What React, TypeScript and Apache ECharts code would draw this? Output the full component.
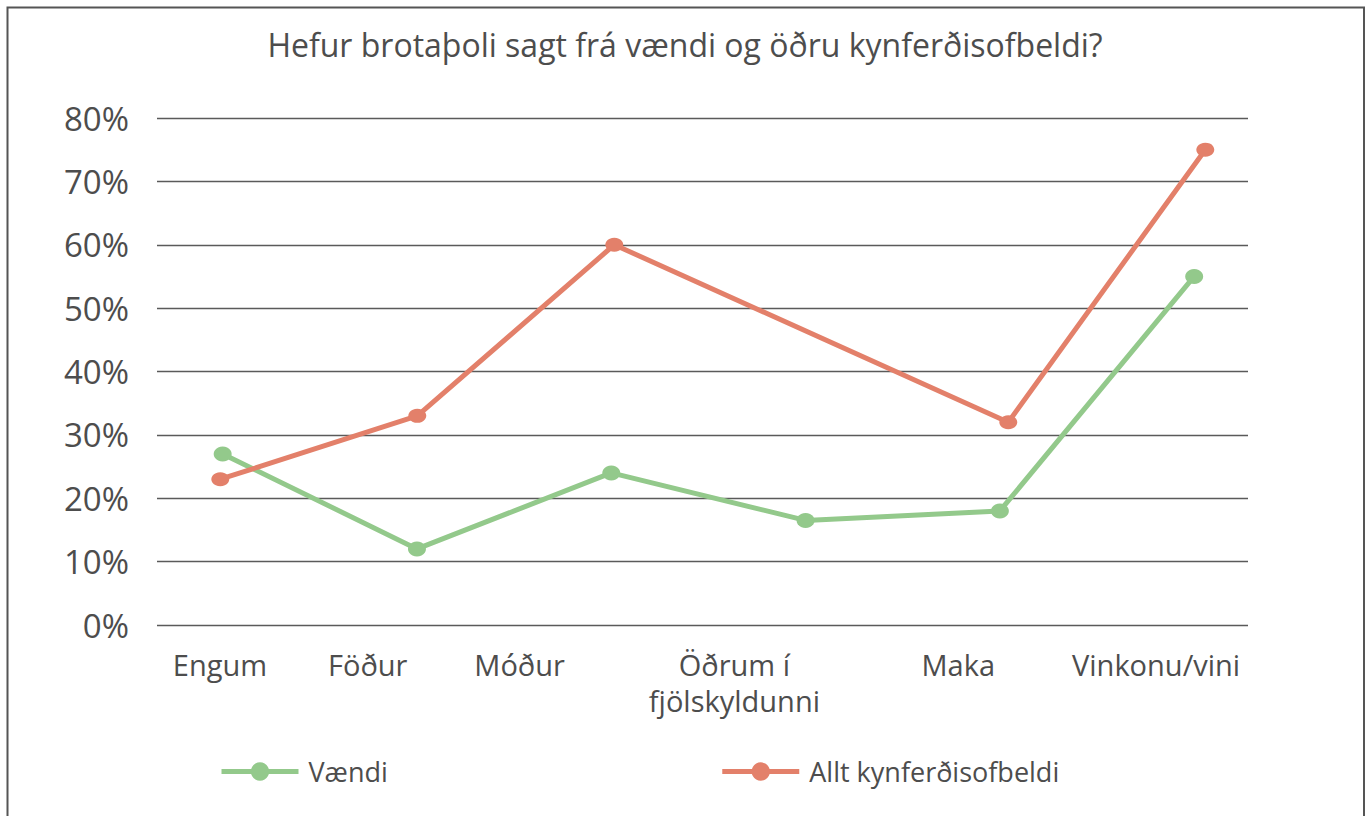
import React, { useEffect, useRef } from 'react';
import * as echarts from 'echarts';

// ---- data ----
const categories: string[] = ['Engum', 'Föður', 'Móður', 'Öðrum í\nfjölskyldunni', 'Maka', 'Vinkonu/vini'];
const seriesNames: string[] = ['Vændi', 'Allt kynferðisofbeldi'];
const vaendi: (number | null)[] = [27, 12, 24, 16.5, 18, 55];
const allt: (number | null)[] = [23, 33, 60, null, 32, 75];
const yMin = 0;
const yMax = 80;
const yStep = 10;
const titleText = 'Hefur brotaþoli sagt frá vændi og öðru kynferðisofbeldi?';

// ---- layout / style (not data) ----
const labelShift = [-28, -62, -92, -59, -17, -1];
const font = "'Open Sans', sans-serif";
const textColor = '#4d4d4d';
const gridColor = '#5a5a5a';
const green = '#93C98B';
const orange = '#E3806A';

export default function App() {
  const ref = useRef<HTMLDivElement>(null);
  useEffect(() => {
    const chart = echarts.init(ref.current as HTMLDivElement, null, { renderer: 'svg' });
    const rich: Record<string, any> = {};
    labelShift.forEach((s, i) => {
      rich['l' + i] = {
        fontFamily: font,
        fontSize: 29,
        color: textColor,
        lineHeight: 36,
        padding: [0, Math.max(0, -2 * s), 0, Math.max(0, 2 * s)],
      };
    });
    const toPairs = (arr: (number | null)[]) =>
      arr.map((v, i) => [i, v]).filter((p) => p[1] !== null);

    chart.setOption({
      animation: false,
      backgroundColor: '#ffffff',
      title: {
        text: titleText,
        left: 'center',
        top: 25,
        padding: 0,
        textStyle: { fontFamily: font, fontSize: 32, fontWeight: 'normal', color: textColor, lineHeight: 38 },
      },
      legend: {
        data: seriesNames,
        left: 219,
        top: 758,
        padding: 0,
        itemWidth: 77,
        itemHeight: 23,
        itemGap: 332,
        lineStyle: { width: 5 },
        textStyle: { fontFamily: font, fontSize: 27, color: textColor, padding: [0, 0, 0, 5] },
      },
      grid: { left: 157, right: 122, top: 118, bottom: 191 },
      xAxis: [
        {
          type: 'category',
          data: categories,
          boundaryGap: true,
          axisLine: { show: false },
          axisTick: { show: false },
          splitLine: { show: false },
          axisLabel: {
            interval: 0,
            margin: 21,
            formatter: (v: string, i: number) =>
              v.split('\n').map((t) => `{l${i}|${t}}`).join('\n'),
            rich,
          },
        },
        { type: 'value', show: false, min: -0.338, max: 5.277 },
        { type: 'value', show: false, min: -0.3213, max: 5.2168 },
      ],
      yAxis: {
        type: 'value',
        min: yMin,
        max: yMax,
        interval: yStep,
        axisLine: { show: false },
        axisTick: { show: false },
        axisLabel: { formatter: '{value}%', fontFamily: font, fontSize: 33, color: textColor, margin: 28 },
        splitLine: { lineStyle: { color: gridColor, width: 1.3 } },
      },
      graphic: [
        {
          type: 'rect',
          shape: { x: 7.5, y: 7.5, width: 1356.5, height: 900 },
          style: { fill: 'none', stroke: '#555555', lineWidth: 2 },
          silent: true,
        },
      ],
      series: [
        {
          name: seriesNames[0],
          type: 'line',
          xAxisIndex: 1,
          data: toPairs(vaendi),
          symbol: 'circle',
          symbolSize: [18, 15],
          itemStyle: { color: green },
          lineStyle: { color: green, width: 5 },
          z: 2,
        },
        {
          name: seriesNames[1],
          type: 'line',
          xAxisIndex: 2,
          data: toPairs(allt),
          connectNulls: true,
          symbol: 'circle',
          symbolSize: [18, 14],
          itemStyle: { color: orange },
          lineStyle: { color: orange, width: 5 },
          z: 3,
        },
      ],
    });
    return () => chart.dispose();
  }, []);
  return (
    <div
      ref={ref}
      style={{ position: 'fixed', left: 0, top: 0, width: 1370, height: 816, background: '#fff' }}
    />
  );
}
